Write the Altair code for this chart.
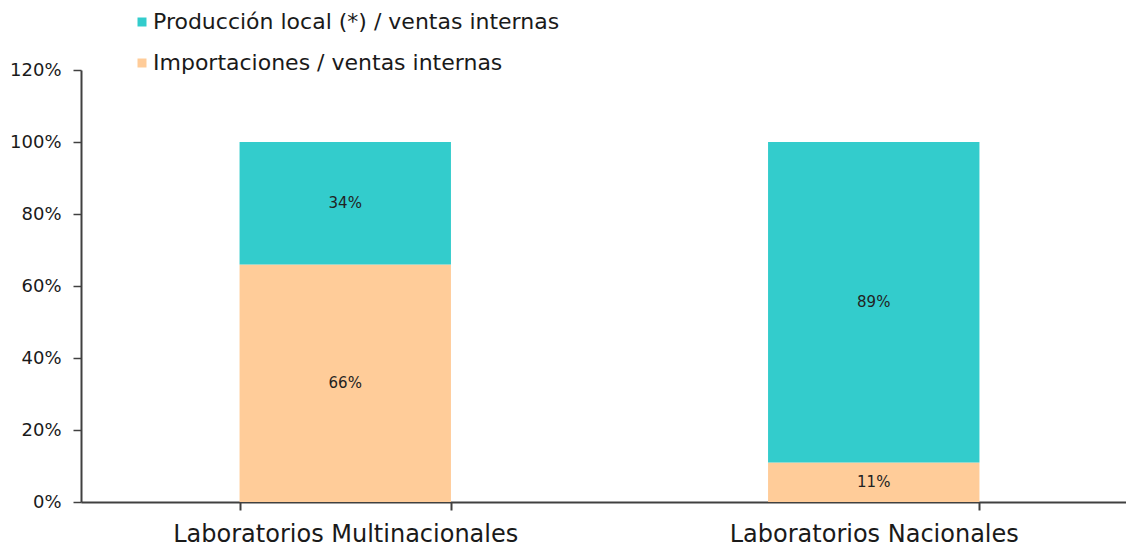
import altair as alt
import pandas as pd

categories = ["Laboratorios Multinacionales", "Laboratorios Nacionales"]
series = ["Producción local (*) / ventas internas", "Importaciones / ventas internas"]
produccion = [34, 89]
importaciones = [66, 11]
colors = ["#33CCCC", "#FFCC99"]
y_ticks = [0, 20, 40, 60, 80, 100, 120]

rows = []
for i, c in enumerate(categories):
    rows.append({"cat": c, "serie": series[1], "value": importaciones[i], "ord": 0})
    rows.append({"cat": c, "serie": series[0], "value": produccion[i], "ord": 1})
df = pd.DataFrame(rows)

FONT = "DejaVu Sans, sans-serif"
TXT = "#1a1a1a"
AX = "#404040"

base = (
    alt.Chart(df)
    .transform_stack(stack="value", groupby=["cat"], as_=["y0", "y1"],
                     sort=[alt.SortField("ord", order="ascending")])
    .transform_calculate(mid="(datum.y0 + datum.y1) / 2", lbl="datum.value + '%'")
)

xenc = alt.X(
    "cat:N",
    sort=categories,
    scale=alt.Scale(range=[0, 1057], paddingInner=0.6, paddingOuter=0.3),
    axis=alt.Axis(title=None, labelAngle=0, tickBand="extent", tickSize=8,
                  labelPadding=12, labelFontSize=24, labelColor=TXT, labelLimit=0,
                  labelFont=FONT, domainColor=AX, tickColor=AX,
                  domainWidth=2, tickWidth=2, grid=False),
)

yaxis = alt.Axis(values=y_ticks, labelExpr="datum.value + '%'", title=None,
                 grid=False, tickSize=8, labelPadding=12, labelFontSize=18,
                 labelColor=TXT, labelFont=FONT, domainColor=AX,
                 tickColor=AX, domainWidth=2, tickWidth=1.5)

bars = base.mark_bar().encode(
    x=xenc,
    y=alt.Y("y0:Q", scale=alt.Scale(domain=[0, 120], nice=False), axis=yaxis),
    y2="y1:Q",
    color=alt.Color(
        "serie:N",
        scale=alt.Scale(domain=series, range=colors),
        legend=alt.Legend(title=None, orient="none", legendX=50, legendY=-59,
                          symbolType="square", symbolSize=81, symbolStrokeWidth=0,
                          labelFontSize=22, labelFont=FONT, labelColor=TXT,
                          labelLimit=0, rowPadding=19, labelOffset=0),
    ),
)

labels = base.mark_text(fontSize=15, color="#222222", font=FONT).encode(
    x=xenc,
    y=alt.Y("mid:Q", scale=alt.Scale(domain=[0, 120], nice=False), axis=yaxis),
    text="lbl:N",
)

chart = (
    alt.layer(bars, labels)
    .properties(width=1045, height=432,
                autosize=alt.AutoSizeParams(type="none"),
                padding={"left": 73, "top": 62, "right": 0, "bottom": 45},
                view=alt.ViewBackground(strokeWidth=0, stroke="transparent"))
    .configure_view(strokeWidth=0, stroke="transparent", strokeOpacity=0)
    .configure_axis(grid=False)
    .configure(font=FONT)
)

chart.save("out.html", embed_options={"renderer": "svg", "actions": False})
